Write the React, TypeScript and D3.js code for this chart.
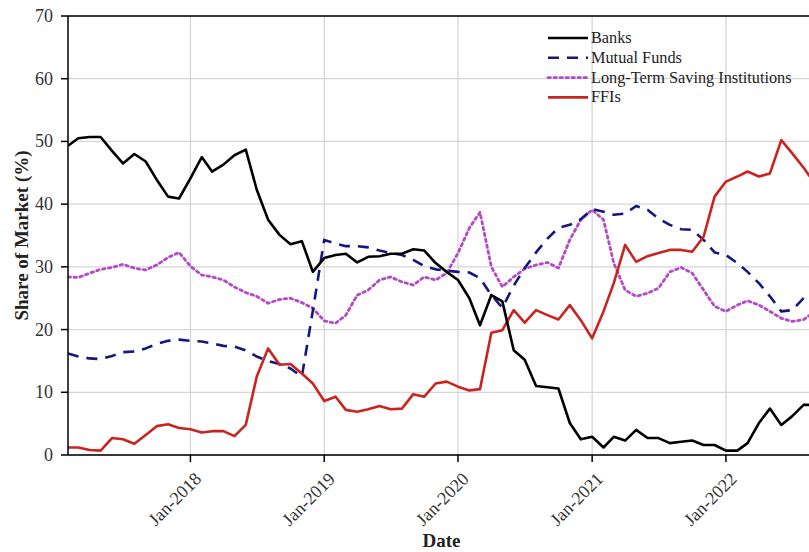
import React from "react";
import * as d3 from "d3";

const seriesNames = ["Banks", "Mutual Funds", "Long-Term Saving Institutions", "FFIs"];

const banks = [49.3, 50.5, 50.7, 50.7, 48.5, 46.5, 48.0, 46.8, 43.9, 41.2, 40.9,
  44.1, 47.5, 45.2, 46.3, 47.8, 48.7,
  42.3, 37.5, 35.1, 33.6, 34.1,
  29.2, 31.4, 31.9, 32.1, 30.7,
  31.6, 31.7, 32.1, 32.1, 32.8,
  32.6, 30.6, 29.2, 27.9, 25.0,
  20.7, 25.5, 24.5, 16.7, 15.2,
  11.0, 10.8, 10.6, 5.1, 2.5, 2.9,
  1.2, 2.9, 2.3, 4.0, 2.7,
  2.7, 1.9, 2.1, 2.3, 1.6,
  1.6, 0.7, 0.7, 1.9, 5.1,
  7.4, 4.8, 6.2, 8.0, 8.0];

const mutualFunds = [16.2, 15.7, 15.4, 15.3, 15.8, 16.4, 16.5, 17.0, 17.7, 18.2, 18.4,
  18.2, 18.1, 17.8, 17.4, 17.3, 16.7,
  15.7, 15.0, 14.5, 13.8, 12.5,
  23.0, 34.3, 33.7, 33.3, 33.3,
  33.1, 32.6, 32.2, 31.9, 31.1,
  30.1, 29.6, 29.4, 29.2, 29.1,
  28.2, 25.5, 23.5, 27.0, 29.8,
  32.3, 34.5, 36.2, 36.7, 37.6, 39.2,
  38.8, 38.3, 38.5, 39.7, 39.1,
  37.7, 36.7, 36.0, 35.9, 34.3,
  32.3, 31.9, 30.6, 29.2, 27.4,
  25.3, 22.9, 23.1, 25.0, 26.0];

const longTermSaving = [28.4, 28.3, 29.0, 29.6, 29.9, 30.4, 29.8, 29.5, 30.3, 31.5, 32.3,
  30.1, 28.7, 28.4, 27.9, 26.8, 25.9,
  25.3, 24.2, 24.8, 25.0, 24.3,
  23.4, 21.4, 21.0, 22.3, 25.5,
  26.3, 27.9, 28.4, 27.6, 27.1,
  28.4, 27.9, 29.0, 32.2, 36.2,
  38.7, 30.0, 26.8, 28.4, 29.7,
  30.3, 30.7, 29.8, 34.3, 37.5, 39.1,
  37.5, 30.6, 26.3, 25.3, 25.8,
  26.6, 29.2, 29.9, 29.0, 26.3,
  23.7, 22.9, 23.9, 24.6, 23.9,
  22.9, 21.8, 21.3, 21.6, 22.9];

const ffis = [1.2, 1.2, 0.8, 0.7, 2.7, 2.5, 1.8, 3.2, 4.6, 4.9, 4.3,
  4.1, 3.6, 3.8, 3.8, 3.0, 4.8,
  12.5, 17.0, 14.4, 14.5, 13.0,
  11.4, 8.6, 9.3, 7.2, 6.9,
  7.3, 7.8, 7.3, 7.4, 9.7,
  9.3, 11.4, 11.7, 10.9, 10.3,
  10.5, 19.5, 19.9, 23.1, 21.1,
  23.1, 22.3, 21.6, 23.9, 21.5, 18.6,
  22.9, 27.4, 33.5, 30.8, 31.7,
  32.2, 32.7, 32.7, 32.4, 34.8,
  41.2, 43.6, 44.4, 45.2, 44.4,
  44.9, 50.2, 48.1, 45.8, 43.3];

const months = d3.timeMonth.range(new Date(2017, 1, 1), new Date(2022, 9, 1));
const xTickDates = [new Date(2018, 0, 1), new Date(2019, 0, 1), new Date(2020, 0, 1), new Date(2021, 0, 1), new Date(2022, 0, 1)];
const xTickLabels = ["Jan-2018", "Jan-2019", "Jan-2020", "Jan-2021", "Jan-2022"];
const yTicks = [0, 10, 20, 30, 40, 50, 60, 70];

const W = 809, H = 552;
const left = 68, right = 815, top = 16, bottom = 455;
const serif = "Liberation Serif, DejaVu Serif, serif";
const fs = (size: number, bold = false): React.CSSProperties => ({
  fontFamily: serif,
  fontSize: size + "px",
  fontWeight: bold ? 700 : 400,
});

export default function App() {
  const x = d3.scaleTime().domain([new Date(2017, 1, 1), new Date(2022, 8, 1)]).range([left, right]);
  const y = d3.scaleLinear().domain([0, 70]).range([bottom, top]);
  const line = d3.line<number>().x((_, i) => x(months[i])).y((d) => y(d));

  const series = [
    { name: seriesNames[0], data: banks, color: "#000000", dash: undefined as string | undefined, width: 2.6 },
    { name: seriesNames[1], data: mutualFunds, color: "#16167e", dash: "11,8", width: 2.6 },
    { name: seriesNames[2], data: longTermSaving, color: "#b34ac6", dash: "2.5,3.5", width: 2.8 },
    { name: seriesNames[3], data: ffis, color: "#c9241f", dash: undefined, width: 2.6 },
  ];
  const drawOrder = [2, 1, 3, 0];

  return (
    <svg width={W} height={H} style={{ position: "absolute", left: 0, top: 0, background: "#fff" }}>
      <defs>
        <clipPath id="plot">
          <rect x={left} y={top - 2} width={W - left} height={bottom - top + 4} />
        </clipPath>
      </defs>
      <g stroke="#d6d6d6" strokeWidth={1.3}>
        {yTicks.map((t) => (
          <line key={"gy" + t} x1={left} x2={W} y1={y(t)} y2={y(t)} />
        ))}
        {xTickDates.map((d, i) => (
          <line key={"gx" + i} x1={x(d)} x2={x(d)} y1={top} y2={bottom} />
        ))}
      </g>
      <g clipPath="url(#plot)" fill="none" strokeLinejoin="round">
        {drawOrder.map((k) => {
          const s = series[k];
          return (
            <path key={s.name} d={line(s.data) || ""} stroke={s.color} strokeWidth={s.width}
              strokeDasharray={s.dash} strokeLinecap={k === 2 ? "round" : "butt"} />
          );
        })}
      </g>
      <g stroke="#000" strokeWidth={1.5}>
        <line x1={left} x2={left} y1={top} y2={bottom} />
        <line x1={left} x2={W} y1={bottom} y2={bottom} />
        <line x1={left} x2={W} y1={top} y2={top} />
        {yTicks.map((t) => (
          <line key={"ty" + t} x1={left - 7} x2={left} y1={y(t)} y2={y(t)} />
        ))}
        {xTickDates.map((d, i) => (
          <line key={"tx" + i} x1={x(d)} x2={x(d)} y1={bottom} y2={bottom + 7} />
        ))}
      </g>
      <g fill="#333">
        {yTicks.map((t) => (
          <text key={"ly" + t} x={53} y={y(t) + 6} textAnchor="end" style={fs(18)}>{t}</text>
        ))}
        {xTickLabels.map((lab, i) => {
          const px = x(xTickDates[i]) + 12;
          const py = 480;
          return (
            <text key={"lx" + i} x={px} y={py} textAnchor="end" style={fs(18)}
              transform={`rotate(-45, ${px}, ${py})`}>{lab}</text>
          );
        })}
      </g>
      <text x={(left + right) / 2} y={547} textAnchor="middle" style={fs(19, true)} fill="#222">Date</text>
      <text transform={`translate(28, ${(top + bottom) / 2}) rotate(-90)`} textAnchor="middle" style={fs(19, true)} fill="#222">Share of Market (%)</text>
      <g>
        {series.map((s, i) => {
          const ly = 38 + i * 19.8;
          return (
            <g key={"lg" + i}>
              <line x1={548} x2={588} y1={ly} y2={ly} stroke={s.color} strokeWidth={s.width}
                strokeDasharray={s.dash} strokeLinecap={i === 2 ? "round" : "butt"} />
              <text x={591} y={ly + 5} style={fs(16.3)} fill="#222">{s.name}</text>
            </g>
          );
        })}
      </g>
    </svg>
  );
}
